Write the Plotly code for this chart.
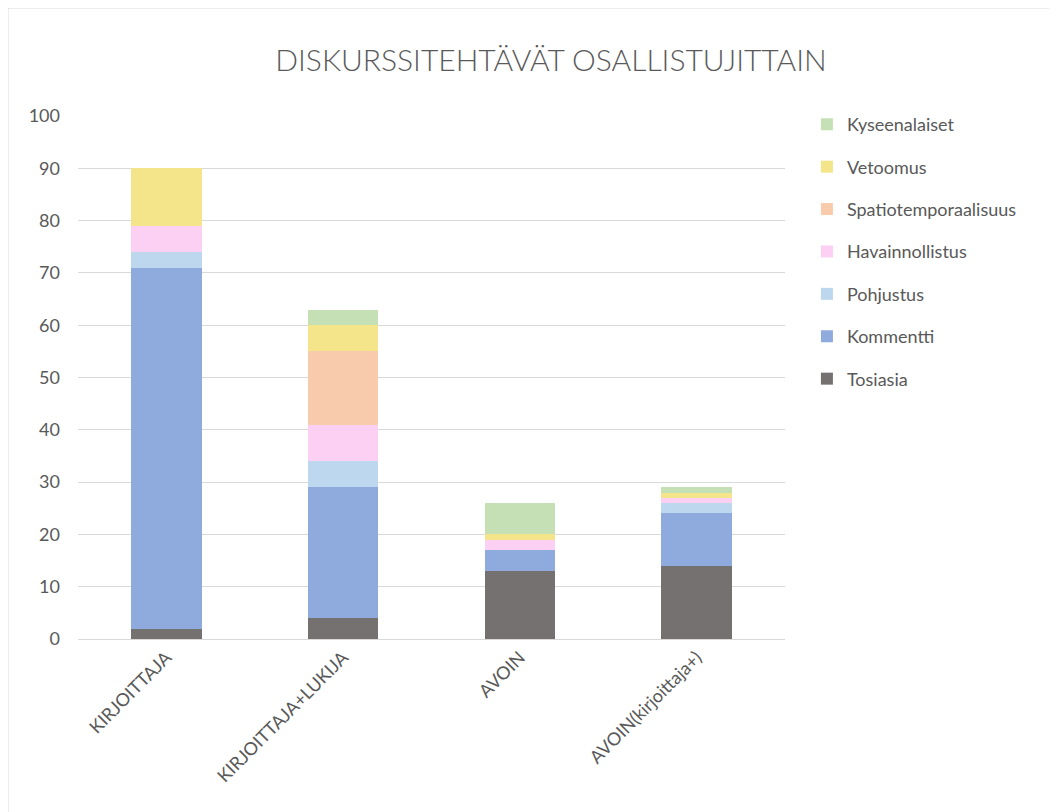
import plotly.graph_objects as go

categories = ["KIRJOITTAJA", "KIRJOITTAJA+LUKIJA", "AVOIN", "AVOIN(kirjoittaja+)"]

tosiasia = [2, 4, 13, 14]
kommentti = [69, 25, 4, 10]
pohjustus = [3, 5, 0, 2]
havainnollistus = [5, 7, 2, 1]
spatiotemporaalisuus = [0, 14, 0, 0]
vetoomus = [11, 5, 1, 1]
kyseenalaiset = [0, 3, 6, 1]

series = [
    ("Tosiasia", tosiasia, "#767171"),
    ("Kommentti", kommentti, "#8FAADC"),
    ("Pohjustus", pohjustus, "#BDD7EE"),
    ("Havainnollistus", havainnollistus, "#FCD0F3"),
    ("Spatiotemporaalisuus", spatiotemporaalisuus, "#F8CBAD"),
    ("Vetoomus", vetoomus, "#F4E48A"),
    ("Kyseenalaiset", kyseenalaiset, "#C5E0B4"),
]

fig = go.Figure()
n = len(series)
for i, (name, vals, color) in enumerate(series):
    fig.add_trace(go.Bar(
        name=name, x=categories, y=vals, marker=dict(color=color, line=dict(width=0)),
        legendgroup=name, legendrank=1000 + (n - i),
    ))

W, H = 1049, 804
L, T = 70, 108
PW, PH = 707, 523
fig.update_layout(
    width=W, height=H,
    barmode="stack",
    bargap=0.6,
    paper_bgcolor="white",
    plot_bgcolor="white",
    font=dict(family="Lato, Open Sans, sans-serif", color="#595959", size=16),
    margin=dict(l=L, r=W - L - PW, t=T, b=H - T - PH),
    title=dict(
        text="DISKURSSITEHTÄVÄT OSALLISTUJITTAIN",
        x=(551 - 8) / W, xref="container", xanchor="center",
        y=1 - (60 - 8) / H, yref="container", yanchor="middle",
        font=dict(size=30, color="#595959", family="Lato, Open Sans, sans-serif", weight=300),
    ),
    legend=dict(
        traceorder="grouped",
        tracegroupgap=16,
        x=1.031, xanchor="left",
        y=1.019, yanchor="top",
        font=dict(size=18, color="#595959"),
        bgcolor="rgba(0,0,0,0)",
    ),
    xaxis=dict(
        tickangle=-45,
        tickfont=dict(size=18, color="#595959"),
        showgrid=False,
        showline=True, linecolor="#D9D9D9", linewidth=1,
        ticks="",
    ),
    yaxis=dict(
        range=[0, 100],
        dtick=10,
        tickfont=dict(size=18, color="#595959"),
        showgrid=True, gridcolor="#D9D9D9", gridwidth=1,
        zeroline=False,
        showline=False,
        ticks="",
        ticklabelstandoff=17,
    ),
    shapes=[dict(
        type="rect", xref="paper", yref="paper",
        x0=-L / PW, x1=(W - L + 5) / PW,
        y0=-(H - T - PH + 5) / PH, y1=1 + T / PH,
        line=dict(color="#D9D9D9", width=1), fillcolor="rgba(0,0,0,0)", layer="below",
    )],
)

fig.write_html("out.html")
